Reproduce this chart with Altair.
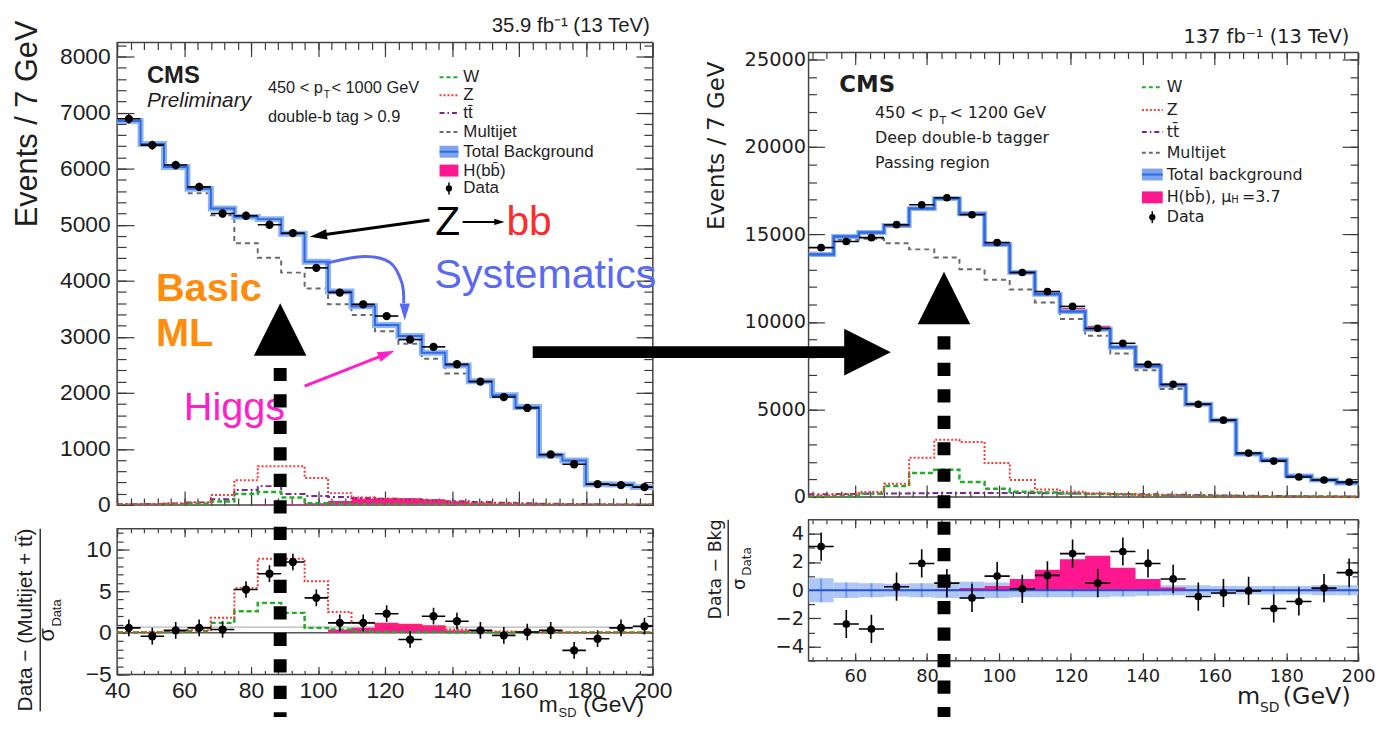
import altair as alt
import pandas as pd

BIN_W = 7
L_START = 40   # first bin edge, left (35.9 fb-1) plot
R_START = 47   # first bin edge, right (137 fb-1) plot

# ---------------- left plot, upper panel (events / 7 GeV) ----------------
L_DATA  = [6890, 6420, 6065, 5675, 5200, 5160, 5000, 4850, 4230, 3790, 3580, 3370,
           2950, 2820, 2510, 2200, 1925, 1730, 900, 725, 370, 353, 317]
L_TOTAL = [6850, 6440, 6030, 5640, 5290, 5140, 5100, 4840, 4340, 3810, 3545, 3210,
           3016, 2716, 2487, 2205, 1958, 1746, 882, 794, 370, 365, 317]
L_QCD   = [6850, 6440, 6030, 5560, 5170, 4670, 4410, 4145, 3860, 3580, 3390, 3100,
           2875, 2610, 2345, 2190, 1950, 1740, 880, 790, 365, 360, 315]
L_Z     = [10, 15, 25, 45, 175, 440, 690, 690, 480, 210, 130, 110, 90, 70, 50, 35, 25,
           18, 12, 10, 8, 6, 5]
L_W     = [5, 8, 12, 20, 60, 195, 230, 130, 30, 15, 12, 10, 8, 6, 5, 4, 3, 3, 2, 2, 2, 2, 2]
L_TT    = [10, 15, 25, 45, 100, 265, 335, 195, 160, 140, 125, 110, 95, 80, 65, 50, 40,
           30, 20, 15, 10, 8, 6]
L_H     = [0, 0, 0, 0, 0, 0, 5, 10, 30, 70, 110, 120, 120, 100, 60, 30, 10, 5, 0, 0, 0, 0, 0]
# ---------------- left plot, lower panel ----------------
L_RES   = [0.6, -0.4, 0.3, 0.6, 0.4, 5.2, 7.1, 8.5, 4.2, 1.2, 1.2, 2.3, -0.8, 2.0, 1.4,
           0.3, -0.3, 0.1, 0.3, -2.1, -0.7, 0.6, 0.8]
L_RES_Z = [0.1, 0.1, 0.2, 0.3, 1.8, 5.4, 8.9, 8.9, 6.2, 2.5, 1.2, 1.0, 0.9, 0.7, 0.4,
           0.2, 0.15, 0.1, 0.1, 0.05, 0.05, 0.05, 0.05]
L_RES_W = [0.05, 0.05, 0.1, 0.2, 1.2, 2.6, 3.6, 2.4, 0.6, 0.4, 0.2, 0.1, 0.1, 0.1, 0.05,
           0.05, 0.05, 0.05, 0.05, 0.05, 0.05, 0.05, 0.05]
L_RES_H = [0, 0, 0, 0, 0, 0, 0, 0, 0, 0.4, 0.6, 1.2, 1.1, 0.9, 0.3, 0.1, 0, 0, 0, 0, 0, 0, 0]

# ---------------- right plot, upper panel ----------------
R_DATA  = [14250, 14600, 14820, 15560, 16700, 17100, 16130, 14540, 12830, 11740, 10890,
           9640, 8780, 7580, 6440, 5300, 4390, 2510, 2050, 1140, 970, 855]
R_TOTAL = [13860, 14880, 15110, 15510, 16480, 17050, 16190, 14430, 12830, 11590, 10600,
           9580, 8550, 7470, 6390, 5300, 4390, 2450, 2110, 1200, 970, 800]
R_QCD   = [13800, 14700, 14750, 14500, 14150, 13680, 13020, 12410, 11860, 11120, 10170,
           9220, 8200, 7240, 6170, 5250, 4350, 2420, 2080, 1180, 950, 790]
R_Z     = [80, 150, 290, 760, 2240, 3270, 3140, 1940, 970, 420, 300, 200, 150, 100, 80,
           60, 45, 30, 20, 15, 10, 10]
R_W     = [30, 60, 190, 630, 1370, 1560, 850, 475, 300, 250, 200, 170, 140, 110, 90, 70,
           50, 40, 30, 25, 20, 15]
R_TT    = [150, 170, 190, 200, 210, 220, 230, 230, 220, 210, 200, 190, 170, 150, 130, 110,
           90, 70, 50, 40, 30, 25]
R_H     = [0, 0, 0, 0, 0, 0, 10, 30, 60, 120, 200, 200, 140, 70, 20, 0, 0, 0, 0, 0, 0, 0]
# ---------------- right plot, lower panel ----------------
R_RES   = [3.1, -2.4, -2.75, 0.25, 1.9, 0.5, -0.55, 1.0, 0.1, 1.05, 2.6, 0.5, 2.75, 1.9,
           0.8, -0.45, -0.2, -0.05, -1.3, -0.8, 0.15, 1.25]
R_RES_H = [0, 0, 0, 0, 0, 0.05, 0.15, 0.3, 0.8, 1.45, 2.2, 2.45, 1.6, 0.8, 0.2, 0.05,
           0, 0, 0, 0, 0, 0]
R_UNC   = [0.85, 0.55, 0.5, 0.45, 0.5, 0.55, 0.6, 0.55, 0.5, 0.5, 0.5, 0.5, 0.45, 0.4,
           0.35, 0.35, 0.3, 0.3, 0.3, 0.3, 0.35, 0.35]

L_LEGEND = ["W", "Z", "tt̄", "Multijet", "Total Background", "H(bb̄)", "Data"]
R_LEGEND = ["W", "Z", "tt̄", "Multijet", "Total background", "H(bb̄), μ", "Data"]

# ---------------- style ----------------
LF = "Liberation Sans"
RF = "DejaVu Sans"
INK = "#1e1e1e"
TICK = "#3a3a3a"
FRAME = "#444444"
PINK = "#ff178f"
BLUE = "#2c6ce0"
BLUE_BAND = "#8fb2f2"
GREEN = "#1fae27"
RED = "#ff3535"
PURPLE = "#7a2696"
GRAY = "#6a6a6a"
ORANGE = "#ff8c0a"
VIOLET = "#5a6af0"
MAGENTA = "#ff1ec8"

# cell sizes (both columns share the row heights)
WL, WR = 540, 554
HU, HL = 466, 147
# frame positions inside the cells (right plot sits a little lower / higher)
RU_T, RU_B = 10, 458       # right upper frame top / bottom inside its cell
RL_T, RL_B = -9, 133       # right lower frame top / bottom inside its cell


def sc(lo, hi):
    return alt.Scale(domain=[lo, hi], nice=False, zero=False)


def sc_frame(v_top, v_bot, f_top, f_bot, h):
    k = (f_bot - f_top) / (v_top - v_bot)
    return sc(v_bot - (h - f_bot) / k, v_top + f_top / k)


XL, YLU, YLL = sc(40, 200), sc(0, 8250), sc(-5, 12.5)
XR = sc(47, 200)
YRU = sc_frame(25400, 0, RU_T, RU_B, HU)
YRL = sc_frame(5, -5, RL_T, RL_B, HL)

ONE = pd.DataFrame({"a": [0]})


def ex(f, s):
    return alt.X(f, scale=s, axis=None)


def ey(f, s):
    return alt.Y(f, scale=s, axis=None)


def step_df(start, vals, base=None):
    n = len(vals)
    d = {"x": [start + BIN_W * i for i in range(n + 1)], "y": list(vals) + [vals[-1]]}
    if base is not None:
        d["y2"] = list(base) + [base[-1]]
    return pd.DataFrame(d)


def hline(df, xs, ys, color, width, dash=None, interp="step-after"):
    kw = dict(interpolate=interp, color=color, strokeWidth=width, clip=True)
    if dash is not None:
        kw["strokeDash"] = dash
    return alt.Chart(df).mark_line(**kw).encode(x=ex("x:Q", xs), y=ey("y:Q", ys))


def harea(df, xs, ys, color):
    return alt.Chart(df).mark_area(interpolate="step-after", color=color, opacity=1,
                                   clip=True).encode(x=ex("x:Q", xs), y=ey("y:Q", ys),
                                                     y2="y2:Q")


def data_pts(start, vals, errs, xs, ys, size):
    c = [start + BIN_W / 2 + BIN_W * i for i in range(len(vals))]
    df = pd.DataFrame({"c": c, "lo": [v - BIN_W / 2 for v in c], "hi": [v + BIN_W / 2 for v in c],
                       "v": vals, "vlo": [v - e for v, e in zip(vals, errs)],
                       "vhi": [v + e for v, e in zip(vals, errs)]})
    h = alt.Chart(df).mark_rule(color="black", strokeWidth=1.6, clip=True).encode(
        x=ex("lo:Q", xs), x2="hi:Q", y=ey("v:Q", ys))
    v = alt.Chart(df).mark_rule(color="black", strokeWidth=1.6, clip=True).encode(
        x=ex("c:Q", xs), y=ey("vlo:Q", ys), y2="vhi:Q")
    p = alt.Chart(df).mark_point(filled=True, color="black", size=size, opacity=1,
                                 clip=True).encode(x=ex("c:Q", xs), y=ey("v:Q", ys))
    return [h, v, p]


def seg(x1, y1, x2, y2, xs, ys, color, width, dash=None):
    df = pd.DataFrame({"x": [x1], "y": [y1], "x2": [x2], "y2": [y2]})
    kw = dict(color=color, strokeWidth=width, strokeCap="butt")
    if dash is not None:
        kw["strokeDash"] = dash
    return alt.Chart(df).mark_rule(**kw).encode(x=ex("x:Q", xs), y=ey("y:Q", ys),
                                                 x2="x2:Q", y2="y2:Q")


def head(x, y, xs, ys, size, color, path, angle=0):
    df = pd.DataFrame({"x": [x], "y": [y]})
    kw = dict(shape=path, size=size, filled=True, color=color, opacity=1, strokeWidth=0)
    if angle:
        kw["angle"] = angle
    return alt.Chart(df).mark_point(**kw).encode(x=ex("x:Q", xs), y=ey("y:Q", ys))


def dtext(s, x, y, xs, ys, size, color, font=LF, weight="normal"):
    df = pd.DataFrame({"x": [x], "y": [y]})
    return alt.Chart(df).mark_text(text=s, fontSize=size, color=color, font=font,
                                   fontWeight=weight, align="left",
                                   baseline="alphabetic").encode(x=ex("x:Q", xs), y=ey("y:Q", ys))


def ptext(s, x, y, size, font, color=INK, weight="normal", style="normal", angle=0,
          align="left", baseline="alphabetic"):
    kw = dict(text=s, fontSize=size, font=font, color=color, fontWeight=weight,
              fontStyle=style, align=align, baseline=baseline)
    if angle:
        kw["angle"] = angle
    return alt.Chart(ONE).mark_text(**kw).encode(x=alt.value(x), y=alt.value(y))


def prule(x1, y1, x2, y2, color, width, dash=None):
    kw = dict(color=color, strokeWidth=width, strokeCap="butt")
    if dash is not None:
        kw["strokeDash"] = dash
    return alt.Chart(ONE).mark_rule(**kw).encode(x=alt.value(x1), y=alt.value(y1),
                                                  x2=alt.value(x2), y2=alt.value(y2))


def prect(x1, y1, x2, y2, color):
    return alt.Chart(ONE).mark_rect(color=color, opacity=1).encode(
        x=alt.value(x1), y=alt.value(y1), x2=alt.value(x2), y2=alt.value(y2))


def frame(w, y1, y2):
    return alt.Chart(ONE).mark_rect(filled=False, color=FRAME, strokeWidth=1.5).encode(
        x=alt.value(0), y=alt.value(y1), x2=alt.value(w), y2=alt.value(y2))


def ppoint(x, y, size):
    return alt.Chart(ONE).mark_point(filled=True, color="black", size=size, opacity=1).encode(
        x=alt.value(x), y=alt.value(y))


def axes(xs, ys, lo, w, h, ft, fb, xmaj, xmin, ymaj, ymin, xt, yt, font, size, xpad, ypad,
         xlabels, xsize=None):
    """ROOT-like axes: labels left/bottom, ticks pointing inwards on all four frame sides."""
    d = pd.DataFrame({"x": [lo[0]], "y": [lo[1]]})

    def lay(xax, yax):
        return alt.Chart(d).mark_point(opacity=0).encode(
            x=alt.X("x:Q", scale=xs, axis=xax), y=alt.Y("y:Q", scale=ys, axis=yax))

    base = dict(domain=False, grid=False, title=None, tickColor=TICK, tickWidth=1.2,
                labelFlush=False, labelOverlap=False, labelBound=False)
    lab = dict(base, ticks=False, labelFont=font, labelColor=INK, format="d")
    tk = dict(base, labels=False, ticks=True)
    xlab = (alt.Axis(orient="bottom", offset=fb - h, values=xmaj, labelPadding=xpad,
                     labelFontSize=xsize or size, **lab) if xlabels else None)
    out = [lay(xlab, alt.Axis(orient="left", values=ymaj, labelPadding=ypad,
                              labelFontSize=size, **lab))]
    for vals_x, vals_y, k in ((xmaj, ymaj, 0), (xmin, ymin, 1)):
        out.append(lay(alt.Axis(orient="top", offset=-fb, values=vals_x, tickSize=xt[k], **tk),
                       alt.Axis(orient="right", offset=-w, values=vals_y, tickSize=yt[k], **tk)))
        out.append(lay(alt.Axis(orient="bottom", offset=ft - h, values=vals_x, tickSize=xt[k],
                                **tk),
                       alt.Axis(orient="left", offset=-w, values=vals_y, tickSize=yt[k], **tk)))
    return out


def legend(rows, xs0, xs1, xt, font, size, names):
    out = []
    styles = [(GREEN, [4, 3]), (RED, [2, 2]), (PURPLE, [5, 3, 1.5, 3]), (GRAY, [4, 3])]
    for (col, dash), y in zip(styles, rows[:4]):
        out.append(prule(xs0, y, xs1, y, col, 2, dash))
    out.append(prect(xs0, rows[4] - 6, xs1, rows[4] + 6, "#7fa4ee"))
    out.append(prule(xs0, rows[4], xs1, rows[4], BLUE, 2))
    out.append(prect(xs0, rows[5] - 6, xs1, rows[5] + 6, PINK))
    xm = (xs0 + xs1) / 2
    out.append(prule(xm, rows[6] - 6, xm, rows[6] + 6, "black", 1.5))
    out.append(ppoint(xm, rows[6], 40))
    for name, y in zip(names, rows):
        out.append(ptext(name, xt, y, size, font, baseline="middle"))
    return out


ARROW = "M-1,-0.6L1,0L-1,0.6Z"
nL, nR = len(L_DATA), len(R_DATA)

# ====================== LEFT UPPER ======================
upL_layers = [frame(WL, 0, HU)]
upL_layers += axes(XL, YLU, (40, 0), WL, HU, 0, HU, list(range(40, 201, 20)),
                   list(range(40, 201, 4)), list(range(0, 8001, 1000)), list(range(0, 8201, 200)),
                   (14, 7), (17, 9), LF, 23, 4, 7, False)
upL_layers += [
    harea(step_df(L_START, L_H, [0] * nL), XL, YLU, PINK),
    hline(step_df(L_START, L_TT), XL, YLU, PURPLE, 2, [6, 3, 2, 3]),
    hline(step_df(L_START, L_W), XL, YLU, GREEN, 2.5, [5, 3]),
    hline(step_df(L_START, L_Z), XL, YLU, RED, 2, [2, 2]),
    hline(step_df(L_START, L_QCD), XL, YLU, GRAY, 2, [5, 4]),
    hline(step_df(L_START, L_TOTAL), XL, YLU, BLUE_BAND, 6),
    hline(step_df(L_START, L_TOTAL), XL, YLU, BLUE, 2),
]
upL_layers += data_pts(L_START, L_DATA, [v ** 0.5 for v in L_DATA], XL, YLU, 70)
upL_layers += [
    ptext("35.9 fb⁻¹ (13 TeV)", 537, -11, 20.5, LF, align="right"),
    ptext("CMS", 30, 41, 24, LF, weight="bold"),
    ptext("Preliminary", 30, 65, 21, LF, style="italic"),
    ptext("450 < p", 152, 51, 16.5, LF),
    ptext("T", 208, 56, 11, LF),
    ptext("< 1000 GeV", 216, 51, 16.5, LF),
    ptext("double-b tag > 0.9", 152, 80, 16.5, LF),
    ptext("Events / 7 GeV", -90, 82, 31, LF, angle=270, align="center",
          baseline="middle"),
]
upL_layers += legend([35, 53, 71, 90, 110, 129, 147], 325, 344, 349, LF, 17, L_LEGEND)
# annotations drawn on top of the left plot
upL_layers += [
    seg(133.3, 5084, 100.1, 4806, XL, YLU, "black", 3),
    head(100.1, 4806, XL, YLU, 300, "black", ARROW, 172),
    dtext("Z", 135.0, 4819, XL, YLU, 41, "black"),
    seg(143.2, 5049, 153.3, 5049, XL, YLU, "black", 2.2),
    head(154.2, 5049, XL, YLU, 110, "black", ARROW),
    dtext("bb", 156.3, 4819, XL, YLU, 41, "#ff2a2a"),
    hline(pd.DataFrame({"x": [102.2, 113.8, 121.5, 125.0, 125.6],
                        "y": [4307, 4431, 4325, 3972, 3601]}), XL, YLU, VIOLET, 3,
          interp="cardinal"),
    head(125.9, 3442, XL, YLU, 300, VIOLET, ARROW, 90),
    seg(96.0, 2118, 120.5, 2695, XL, YLU, MAGENTA, 3),
    head(120.5, 2695, XL, YLU, 300, MAGENTA, ARROW, 338.4),
    dtext("Basic", 51.6, 3636, XL, YLU, 40, ORANGE, weight="bold"),
    dtext("ML", 51.6, 2842, XL, YLU, 40, ORANGE, weight="bold"),
    dtext("Systematics", 134.8, 3866, XL, YLU, 41.5, VIOLET),
    dtext("Higgs", 59.9, 1518, XL, YLU, 40, MAGENTA),
]
upL = alt.layer(*upL_layers).properties(width=WL, height=HU).resolve_axis(
    x="independent", y="independent")

# ====================== LEFT LOWER ======================
loL_layers = [frame(WL, 0, HL)]
loL_layers += axes(XL, YLL, (40, -5), WL, HL, 0, HL, list(range(40, 201, 20)),
                   list(range(40, 201, 4)), [-5, 0, 5, 10], list(range(-5, 13)), (8, 4), (12, 6),
                   LF, 23, 5, 6, True)
loL_layers += [
    alt.Chart(pd.DataFrame({"y": [0.7]})).mark_rule(color="#b5b5b5", strokeWidth=1.2).encode(
        y=ey("y:Q", YLL)),
    alt.Chart(pd.DataFrame({"y": [0]})).mark_rule(color="#555555", strokeWidth=1.5).encode(
        y=ey("y:Q", YLL)),
    harea(step_df(L_START, L_RES_H, [0] * nL), XL, YLL, PINK),
    hline(step_df(L_START, L_RES_W), XL, YLL, GREEN, 2.5, [5, 3]),
    hline(step_df(L_START, L_RES_Z), XL, YLL, RED, 2, [2, 2]),
]
loL_layers += data_pts(L_START, L_RES, [1.0] * nL, XL, YLL, 70)
loL_layers += [
    ptext("Data − (Multijet + tt̄)", -92, 92, 21, LF, angle=270, align="center",
          baseline="middle"),
    prule(-77.5, 0, -77.5, 184, "#333333", 1.5),
    ptext("σ", -71, 107, 22, LF, angle=270, align="center", baseline="middle"),
    ptext("Data", -61, 85, 13, LF, angle=270, align="center", baseline="middle"),
    ptext("m", 425, 185, 23, LF),
    ptext("SD", 445, 189.5, 13, LF),
    ptext("(GeV)", 470, 185, 23, LF),
    seg(88.7, 31.8, 88.7, -10.1, XL, YLL, "black", 13, [13.3, 13.4]),
    head(88.7, 36.4, XL, YLL, 2809, "black", "M0,-1L1,1L-1,1Z"),
]
loL = alt.layer(*loL_layers).properties(width=WL, height=HL).resolve_axis(
    x="independent", y="independent")

# ====================== RIGHT UPPER ======================
o = RU_T
upR_layers = [frame(WR, RU_T, RU_B)]
upR_layers += axes(XR, YRU, (47, 0), WR, HU, RU_T, RU_B, list(range(60, 201, 20)),
                   list(range(48, 201, 4)), list(range(0, 25001, 5000)),
                   list(range(0, 25401, 1000)), (12, 6), (16, 8), RF, 19.5, 4, 3, False)
upR_layers += [
    hline(step_df(R_START, R_TT), XR, YRU, PURPLE, 2, [6, 3, 2, 3]),
    hline(step_df(R_START, R_W), XR, YRU, GREEN, 2.5, [5, 3]),
    hline(step_df(R_START, R_Z), XR, YRU, RED, 2, [2, 2]),
    hline(step_df(R_START, R_QCD), XR, YRU, GRAY, 2, [5, 4]),
    harea(step_df(R_START, [t + h for t, h in zip(R_TOTAL, R_H)], R_TOTAL), XR, YRU, PINK),
    hline(step_df(R_START, R_TOTAL), XR, YRU, BLUE_BAND, 5),
    hline(step_df(R_START, R_TOTAL), XR, YRU, BLUE, 2.5),
]
upR_layers += data_pts(R_START, R_DATA, [v ** 0.5 for v in R_DATA], XR, YRU, 60)
upR_layers += [
    ptext("137 fb⁻¹ (13 TeV)", 545, o - 10, 19.5, RF, align="right"),
    ptext("CMS", 31, o + 40, 23, RF, weight="bold"),
    ptext("450 < p", 67, o + 66, 16, RF),
    ptext("T", 132, o + 72, 11, RF),
    ptext("< 1200 GeV", 142, o + 66, 16, RF),
    ptext("Deep double-b tagger", 67, o + 91, 16, RF),
    ptext("Passing region", 67, o + 116, 16, RF),
    ptext("Events / 7 GeV", -92, o + 94, 23, RF, angle=270, align="center",
          baseline="middle"),
    ptext("H", 426, o + 152, 10, RF),
    ptext("=3.7", 437, o + 146, 16, RF, baseline="middle"),
]
upR_layers += legend([o + r for r in (35, 58, 80, 101, 123, 146, 166)], 336, 357, 361, RF, 16,
                     R_LEGEND)
upR_layers += [
    seg(-29.8, 8277, 57.7, 8277, XR, YRU, "black", 12),
    head(63.4, 8277, XR, YRU, 2209, "black", "M-1,-1L1,0L-1,1Z"),
]
upR = alt.layer(*upR_layers).properties(width=WR, height=HU).resolve_axis(
    x="independent", y="independent")

# ====================== RIGHT LOWER ======================
o = RL_T
cR = [R_START + BIN_W / 2 + BIN_W * i for i in range(nR)]
unc_df = pd.DataFrame({"lo": [c - BIN_W / 2 for c in cR], "hi": [c + BIN_W / 2 for c in cR],
                       "c": cR, "u1": [-u for u in R_UNC], "u2": R_UNC})
loR_layers = [frame(WR, RL_T, RL_B)]
loR_layers += axes(XR, YRL, (47, -5), WR, HL, RL_T, RL_B, list(range(60, 201, 20)),
                   list(range(48, 201, 4)), [-4, -2, 0, 2, 4], list(range(-5, 6)), (8, 4),
                   (12, 6), RF, 19.5, 7, 5, True, xsize=18)
loR_layers += [
    alt.Chart(unc_df).mark_rect(color="#aac4f6", opacity=0.95, clip=True).encode(
        x=ex("lo:Q", XR), x2="hi:Q", y=ey("u1:Q", YRL), y2="u2:Q"),
    alt.Chart(unc_df).mark_rule(color="#7199ec", strokeWidth=2, clip=True).encode(
        x=ex("c:Q", XR), y=ey("u1:Q", YRL), y2="u2:Q"),
    harea(step_df(R_START, R_RES_H, [0] * nR), XR, YRL, PINK),
    alt.Chart(pd.DataFrame({"y": [0]})).mark_rule(color="#2552cc", strokeWidth=2).encode(
        y=ey("y:Q", YRL)),
]
loR_layers += data_pts(R_START, R_RES, [1.0] * nR, XR, YRL, 60)
loR_layers += [
    ptext("Data − Bkg", -93, o + 50, 17.5, RF, angle=270, align="center", baseline="middle"),
    prule(-81, o, -81, o + 97, "#333333", 1.5),
    ptext("σ", -69, o + 65, 18, RF, angle=270, align="center", baseline="middle"),
    ptext("Data", -62, o + 42, 12, RF, angle=270, align="center", baseline="middle"),
    ptext("m", 432, o + 186, 24, RF),
    ptext("SD", 455, o + 194, 14, RF),
    ptext("(GeV)", 478, o + 186, 24, RF),
    seg(84.7, 18.03, 84.7, -9.0, XR, YRL, "black", 13, [13.3, 13.4]),
    head(84.7, 20.74, XR, YRL, 2809, "black", "M0,-1L1,1L-1,1Z"),
]
loR = alt.layer(*loR_layers).properties(width=WR, height=HL).resolve_axis(
    x="independent", y="independent")

# ====================== LAYOUT ======================
chart = alt.concat(upL, upR, loL, loR, columns=2, bounds="flush",
                   spacing={"row": 24, "column": 157}).properties(
    padding={"left": 4, "top": 5, "right": 0, "bottom": 0}, background="white"
).configure_view(strokeOpacity=0)

chart.save("out.html", embed_options={"renderer": "svg", "actions": False})
